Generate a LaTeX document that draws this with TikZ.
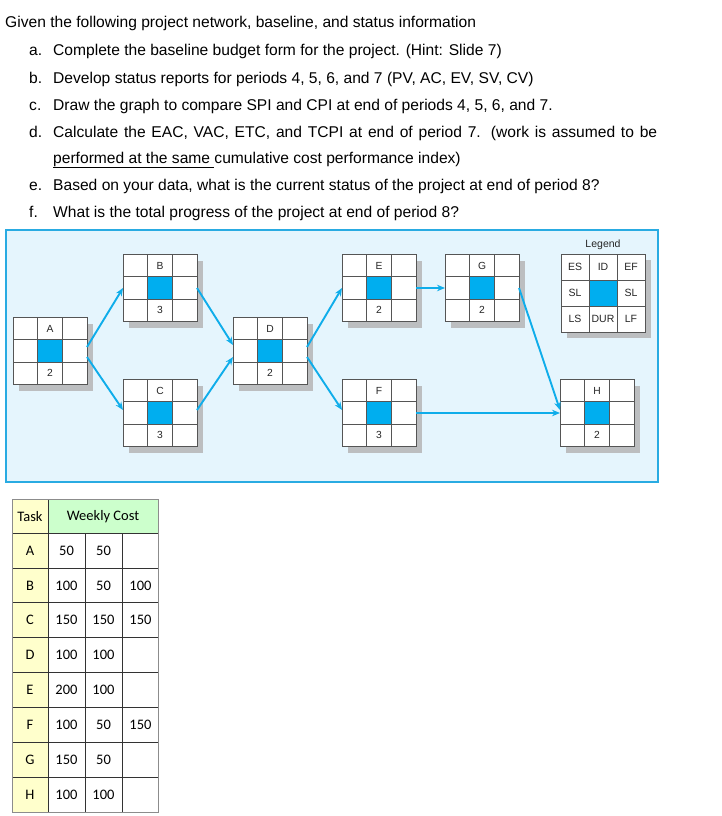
\documentclass[tikz,border=0pt]{standalone}
\usepackage{fontspec}
\setmainfont{Liberation Sans}
\newfontfamily\tablefont{Carlito}
\usetikzlibrary{arrows.meta,calc,shadows}

\definecolor{framecyan}{HTML}{29ABE2}
\definecolor{panelblue}{HTML}{E5F5FD}
\definecolor{cellblue}{HTML}{00AEEF}
\definecolor{flowblue}{HTML}{0FADEA}
\definecolor{gridgray}{HTML}{555555}
\definecolor{shadowgray}{HTML}{BCBEC0}
\definecolor{taskyellow}{HTML}{FFFFCC}
\definecolor{costgreen}{HTML}{CCFFCC}

% blue centre cell and inner lines of a 3x3 activity box
\newcommand{\actgrid}[1]{%
  \fill[cellblue] ($(#1.south west)!0.3333!(#1.north east)$) rectangle ($(#1.south west)!0.6667!(#1.north east)$);
  \foreach \f in {0.3333,0.6667} {
    \draw[gridline] ($(#1.south west)!\f!(#1.south east)$) -- ($(#1.north west)!\f!(#1.north east)$);
    \draw[gridline] ($(#1.south west)!\f!(#1.north west)$) -- ($(#1.south east)!\f!(#1.north east)$);
  }%
}
% activity box: name, centre, ID, duration
\newcommand{\activity}[4]{%
  \node[act] (#1) at (#2) {};
  \actgrid{#1}
  \node[celltext] (#1-id) at ([yshift=22.3pt]#1.center) {#3};
  \node[celltext] (#1-dur) at ([yshift=-22.3pt]#1.center) {#4};
}

\begin{document}
\begin{tikzpicture}[x=1pt, y=-1pt,
    act/.style={draw=gridgray, line width=0.7pt, fill=white, inner sep=0pt, outer sep=0pt,
      minimum width=74pt, minimum height=67pt,
      drop shadow={shadow xshift=6pt, shadow yshift=-6pt, fill=shadowgray, opacity=1}},
    gridline/.style={gridgray, line width=0.7pt},
    celltext/.style={font=\fontsize{10.3}{12}\selectfont, text=black!85, inner sep=0pt},
    flow/.style={draw=flowblue, line width=1.9pt, -{Stealth[length=8pt, width=6.5pt]}},
    question/.style={anchor=base west, inner sep=0pt, font=\fontsize{15.6}{18}\selectfont},
    tabletext/.style={font=\tablefont\fontsize{14.5}{16}\selectfont, inner sep=0pt},
    tablegrid/.style={black!80, line width=0.6pt}
]
\useasboundingbox (0,0) rectangle (721,816);

% Questions
\node[question] (intro) at (5,28) {Given the following project network, baseline, and status information};
\node[question] (qa) at (29,56) {\makebox[24pt][l]{a.}Complete the baseline budget form for the project. (Hint: Slide 7)};
\node[question] (qb) at (29,83) {\makebox[24pt][l]{b.}Develop status reports for periods 4, 5, 6, and 7 (PV, AC, EV, SV, CV)};
\node[question] (qc) at (29,110) {\makebox[24pt][l]{c.}Draw the graph to compare SPI and CPI at end of periods 4, 5, 6, and 7.};
\node[question] (qd) at (29,137) {\makebox[24pt][l]{d.}\makebox[604pt][s]{Calculate the EAC, VAC, ETC, and TCPI at end of period 7. (work is assumed to be}};
\node[question] (qd2) at (53,163) {\underline{performed at the same\ }cumulative cost performance index)};
\node[question] (qe) at (29,190) {\makebox[24pt][l]{e.}Based on your data, what is the current status of the project at end of period 8?};
\node[question] (qf) at (29,217) {\makebox[24pt][l]{f.}What is the total progress of the project at end of period 8?};

% Network panel
\draw[framecyan, fill=panelblue, line width=1.2pt] (6,230) rectangle (658,482);

% Activities
\activity{A}{50,351}{A}{2}
\activity{B}{160,288}{B}{3}
\activity{C}{160,413}{C}{3}
\activity{D}{270,351}{D}{2}
\activity{E}{379,288}{E}{2}
\activity{F}{379,413}{F}{3}
\activity{G}{482,288}{G}{2}
\activity{H}{597,413}{H}{2}

% Legend
\node[celltext, font=\fontsize{10.5}{12}\selectfont] (legend-title) at (603,245) {Legend};
\node[act, minimum width=84pt, minimum height=78pt] (legend) at (603,293) {};
\actgrid{legend}
\foreach \txt/\dx/\dy [count=\i] in {ES/-28/26, ID/0/26, EF/28/26, SL/-28/0, SL/28/0, LS/-28/-26, DUR/0/-26, LF/28/-26}
  \node[celltext, font=\fontsize{10.5}{12}\selectfont] (legend-\i) at ([shift={(\dx pt,\dy pt)}]legend.center) {\txt};

% Precedence
\draw[flow] ([yshift=4pt]A.east) -- (B.west);
\draw[flow] ([yshift=-6pt]A.east) -- ([yshift=3pt]C.west);
\draw[flow] (B.east) -- ([yshift=6pt]D.west);
\draw[flow] ([yshift=3pt]C.east) -- ([yshift=-6pt]D.west);
\draw[flow] ([yshift=4pt]D.east) -- (E.west);
\draw[flow] ([yshift=-6pt]D.east) -- ([yshift=3pt]F.west);
\draw[flow] (E.east) -- (G.west);
\draw[flow] (G.east) -- ([yshift=3pt]H.west);
\draw[flow] (F.east) -- (H.west);

% Weekly cost table
\fill[taskyellow] (12,499) rectangle (48,812);
\fill[costgreen] (48,499) rectangle (158,533);
\foreach \r in {0,...,7}
  \draw[tablegrid] (12,{533+34.875*\r}) -- (158,{533+34.875*\r});
\draw[tablegrid] (48,499) -- (48,812);
\draw[tablegrid] (85,533) -- (85,812);
\draw[tablegrid] (122,533) -- (122,812);
\draw[black!45, line width=0.8pt] (12,499) rectangle (158,812);

\node[tabletext] (task-head) at (30,517) {Task};
\node[tabletext] (cost-head) at (103,517) {Weekly Cost};
\foreach \task [count=\r] in {A,B,C,D,E,F,G,H}
  \node[tabletext] (task-\task) at (30,{533+34.875*\r-17.4}) {\task};
\foreach \c/\r/\val in {1/1/50, 2/1/50,
    1/2/100, 2/2/50, 3/2/100,
    1/3/150, 2/3/150, 3/3/150,
    1/4/100, 2/4/100,
    1/5/200, 2/5/100,
    1/6/100, 2/6/50, 3/6/150,
    1/7/150, 2/7/50,
    1/8/100, 2/8/100}
  \node[tabletext] (cost-\r-\c) at ({29.5+37*\c},{533+34.875*\r-17.4}) {\val};

\end{tikzpicture}
\end{document}
